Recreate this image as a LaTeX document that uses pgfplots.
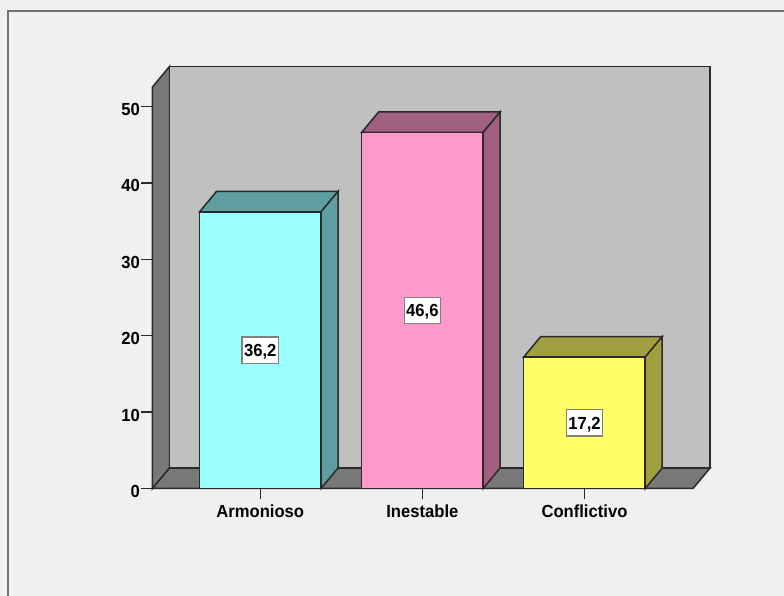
\documentclass[border=0pt]{standalone}
\usepackage{pgfplots}
\pgfplotsset{compat=1.18}
\usepackage{fontspec}
\setmainfont[FakeStretch=0.95]{Liberation Sans}
\definecolor{panel}{HTML}{F0F0F0}
\definecolor{wall}{HTML}{C0C0C0}
\definecolor{floorgray}{HTML}{787878}
\definecolor{edge}{HTML}{2A2A2A}
\definecolor{cyanfront}{HTML}{99FFFF}
\definecolor{cyanside}{HTML}{5F9EA0}
\definecolor{pinkfront}{HTML}{FF99CC}
\definecolor{pinkside}{HTML}{A0607F}
\definecolor{yellowfront}{HTML}{FFFF66}
\definecolor{yellowside}{HTML}{A0A040}
\newcommand{\chartfont}{\fontsize{17.5}{17.5}\selectfont\bfseries}
\begin{document}
\begin{tikzpicture}[x=1pt,y=1pt]
% panel behind the plot
\path[use as bounding box] (-152.5,-107.5) rectangle (631.5,488.5);
\fill[panel] (-152.5,-107.5) rectangle (631.5,488.5);
\draw[color=gray!90!black,line width=1.6pt] (-144.5,-107.5) -- (-144.5,477.5) -- (631.5,477.5);
\begin{axis}[
  at={(0pt,0pt)}, anchor=south west,
  scale only axis, width=540.5pt, height=401.5pt,
  xmin=-0.6647, xmax=2.6696, ymin=0, ymax=52.55,
  clip=false,
  axis x line=bottom, axis y line=left,
  axis line style={-,color=edge,line width=1.5pt},
  xtick={0,1,2},
  xticklabels={Armonioso,Inestable,Conflictivo},
  ytick={0,10,20,30,40,50},
  tick align=outside,
  major tick length=11pt,
  tick style={color=edge,line width=1.5pt},
  tick label style={font=\chartfont,text=black},
  yticklabel style={/pgf/number format/assume math mode=true},
  y tick label style={xshift=2pt,yshift=-3pt},
  x tick label style={yshift=-1.5pt},
  every axis plot/.append style={color=edge,line width=1.5pt},
]
% side wall, floor and back wall of the plot box
\addplot[fill=floorgray] coordinates {(-0.6647,0) (-0.5598,2.683) (-0.5598,55.233) (-0.6647,52.55)} --cycle;
\addplot[fill=floorgray] coordinates {(-0.6647,0) (2.6696,0) (2.7745,2.683) (-0.5598,2.683)} --cycle;
\addplot[fill=wall] coordinates {(-0.5598,2.683) (2.7745,2.683) (2.7745,55.233) (-0.5598,55.233)} --cycle;
% Armonioso
\addplot[fill=cyanside] coordinates {(-0.3748,36.2) (0.3748,36.2) (0.4797,38.883) (-0.2699,38.883)} --cycle;
\addplot[fill=cyanside] coordinates {(0.3748,0) (0.4797,2.683) (0.4797,38.883) (0.3748,36.2)} --cycle;
\addplot[ybar,bar width=121.5pt,fill=cyanfront] coordinates {(0,36.2)};
% Inestable
\addplot[fill=pinkside] coordinates {(0.6252,46.6) (1.3748,46.6) (1.4797,49.283) (0.7301,49.283)} --cycle;
\addplot[fill=pinkside] coordinates {(1.3748,0) (1.4797,2.683) (1.4797,49.283) (1.3748,46.6)} --cycle;
\addplot[ybar,bar width=121.5pt,fill=pinkfront] coordinates {(1,46.6)};
% Conflictivo
\addplot[fill=yellowside] coordinates {(1.6252,17.2) (2.3748,17.2) (2.4797,19.883) (1.7301,19.883)} --cycle;
\addplot[fill=yellowside] coordinates {(2.3748,0) (2.4797,2.683) (2.4797,19.883) (2.3748,17.2)} --cycle;
\addplot[ybar,bar width=121.5pt,fill=yellowfront] coordinates {(2,17.2)};
% value labels at mid height
\addplot[draw=none,mark=none,
  nodes near coords, point meta=explicit symbolic,
  every node near coord/.style={anchor=center,font=\chartfont,text=black,fill=white,
    draw=gray,line width=1.2pt,inner sep=0pt,text height=12.5pt,text depth=0pt,
    minimum width=36.5pt,minimum height=26.5pt}]
  table[meta=label,row sep=\\] {x y label\\ 0 18.1 36,2\\ 1 23.3 46,6\\ 2 8.6 17,2\\};
\end{axis}
\end{tikzpicture}
\end{document}
